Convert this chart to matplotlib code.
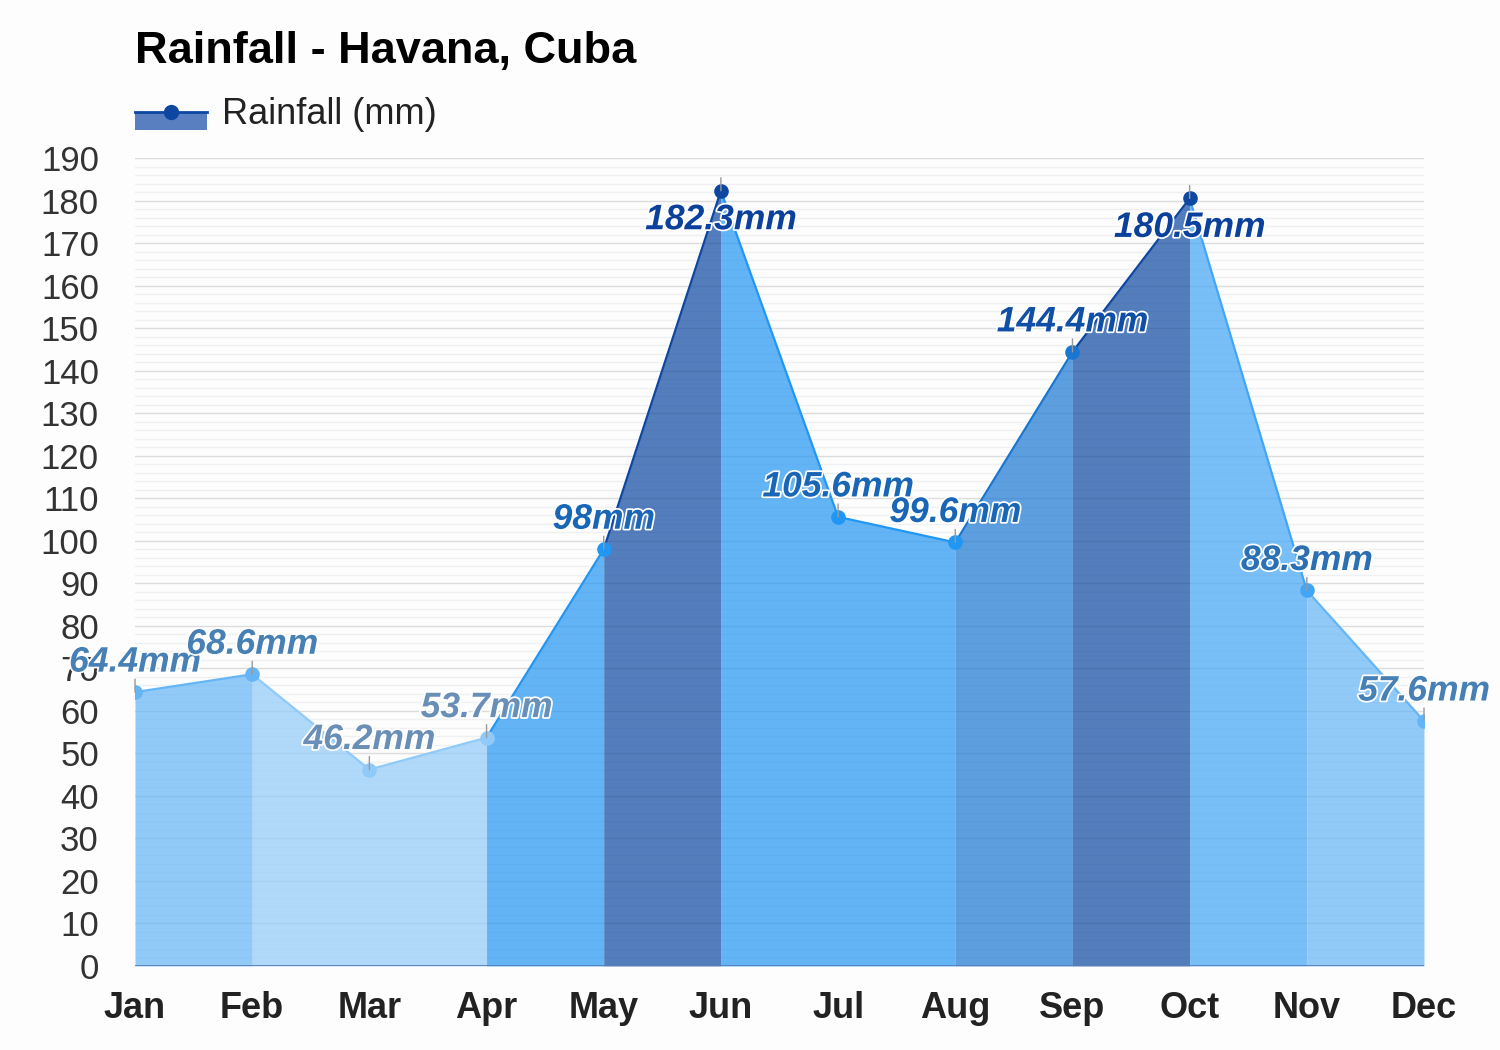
import matplotlib
matplotlib.use("Agg")
import matplotlib.pyplot as plt
import matplotlib.patheffects as pe
from matplotlib.patches import Rectangle
from matplotlib.lines import Line2D

months = ["Jan", "Feb", "Mar", "Apr", "May", "Jun", "Jul", "Aug", "Sep", "Oct", "Nov", "Dec"]
rainfall = [64.4, 68.6, 46.2, 53.7, 98, 182.3, 105.6, 99.6, 144.4, 180.5, 88.3, 57.6]
y_ticks = list(range(0, 191, 10))
title = "Rainfall - Havana, Cuba"
legend_label = "Rainfall (mm)"

FONT = "Liberation Sans"
plt.rcParams["font.family"] = [FONT, "DejaVu Sans"]


def fill_color(v):
    if v < 55:
        return "#90caf9"
    if v < 80:
        return "#64b5f6"
    if v < 90:
        return "#42a5f5"
    if v < 120:
        return "#2196f3"
    if v < 150:
        return "#1976d2"
    return "#0d47a1"


def label_color(v):
    return {
        "#90caf9": "#6a8fb6",
        "#64b5f6": "#4680b4",
        "#42a5f5": "#2a70b2",
        "#2196f3": "#1a66b6",
        "#1976d2": "#0f4fa6",
        "#0d47a1": "#0b409c",
    }[fill_color(v)]


bg = "#fcfdfc"
fig = plt.figure(figsize=(15, 10.5), dpi=100, facecolor=bg)
ax = fig.add_axes([0.09, 0.08, 1424 / 1500 - 0.09, (1050 - 158) / 1050 - 0.08])
ax.set_facecolor(bg)

x = list(range(len(months)))

# grid
for yv in range(0, 191, 2):
    major = yv % 10 == 0
    ax.axhline(yv, color="#dcdcdc" if major else "#f0f0f3", lw=1, zorder=0)

# area segments, coloured by the right-hand month; merge runs of equal colour
seg_colors = [fill_color(rainfall[i + 1]) for i in range(len(x) - 1)]
start = 0
for i in range(1, len(seg_colors) + 1):
    if i == len(seg_colors) or seg_colors[i] != seg_colors[start]:
        xs = x[start:i + 1]
        ys = rainfall[start:i + 1]
        ax.fill_between(xs, ys, 0, color=seg_colors[start], alpha=0.7,
                        lw=0, zorder=1)
        start = i

for i in range(len(x) - 1):
    c = seg_colors[i]
    ax.plot([x[i], x[i + 1]], [rainfall[i], rainfall[i + 1]], color=c,
            lw=1.6, zorder=2, solid_capstyle="round")

ax.axhline(0, color="#5b7fb5", lw=1.3, zorder=3)

# markers, ticks and labels
for xi, v in zip(x, rainfall):
    c = fill_color(v)
    ax.plot([xi], [v], "o", color=c, ms=9.5, mec=c, zorder=4)
    ax.annotate("", xy=(xi, v), xytext=(0, 13), textcoords="offset pixels",
                arrowprops=dict(arrowstyle="-", color="#999999", lw=1,
                                shrinkA=0, shrinkB=0), zorder=5)
    txt = f"{v:g}mm"
    off = -29 if v > 170 else 30
    ax.annotate(txt, xy=(xi, v), xytext=(0, off), textcoords="offset pixels",
                ha="center", va="center", fontsize=25.5, fontweight="bold",
                fontstyle="italic", color=label_color(v), zorder=6,
                path_effects=[pe.withStroke(linewidth=2.5, foreground="white")],
                annotation_clip=False)

ax.set_xlim(0, 11)
ax.set_ylim(0, 190)
ax.set_yticks(y_ticks)
ax.set_yticklabels([str(t) for t in y_ticks], fontsize=25, color="#333333")
ax.set_xticks(x)
ax.set_xticklabels(months, fontsize=26, fontweight="bold", color="#222222")
ax.tick_params(axis="y", length=0, pad=26)
ax.tick_params(axis="x", length=0, pad=18)
for s in ax.spines.values():
    s.set_visible(False)

# title
fig.text(135 / 1500, 1 - 51 / 1050, title, fontsize=32.5, fontweight="bold",
         color="#000000", ha="left", va="center")

# legend (manual)
fig.patches.append(Rectangle((135 / 1500, 1 - 130 / 1050), 72 / 1500, 18 / 1050,
                             transform=fig.transFigure, facecolor="#5a7fc0",
                             edgecolor="none"))
fig.lines.append(Line2D([135 / 1500, 207 / 1500], [1 - 112 / 1050, 1 - 112 / 1050],
                        transform=fig.transFigure, color="#0d47a1", lw=2))
fig.lines.append(Line2D([171 / 1500], [1 - 112 / 1050], transform=fig.transFigure,
                        color="#0d47a1", marker="o", ms=10, lw=0))
fig.text(222 / 1500, 1 - 114 / 1050, legend_label, fontsize=26, color="#222222",
         ha="left", va="center")

fig.savefig("out.png", dpi=100, facecolor=bg)
